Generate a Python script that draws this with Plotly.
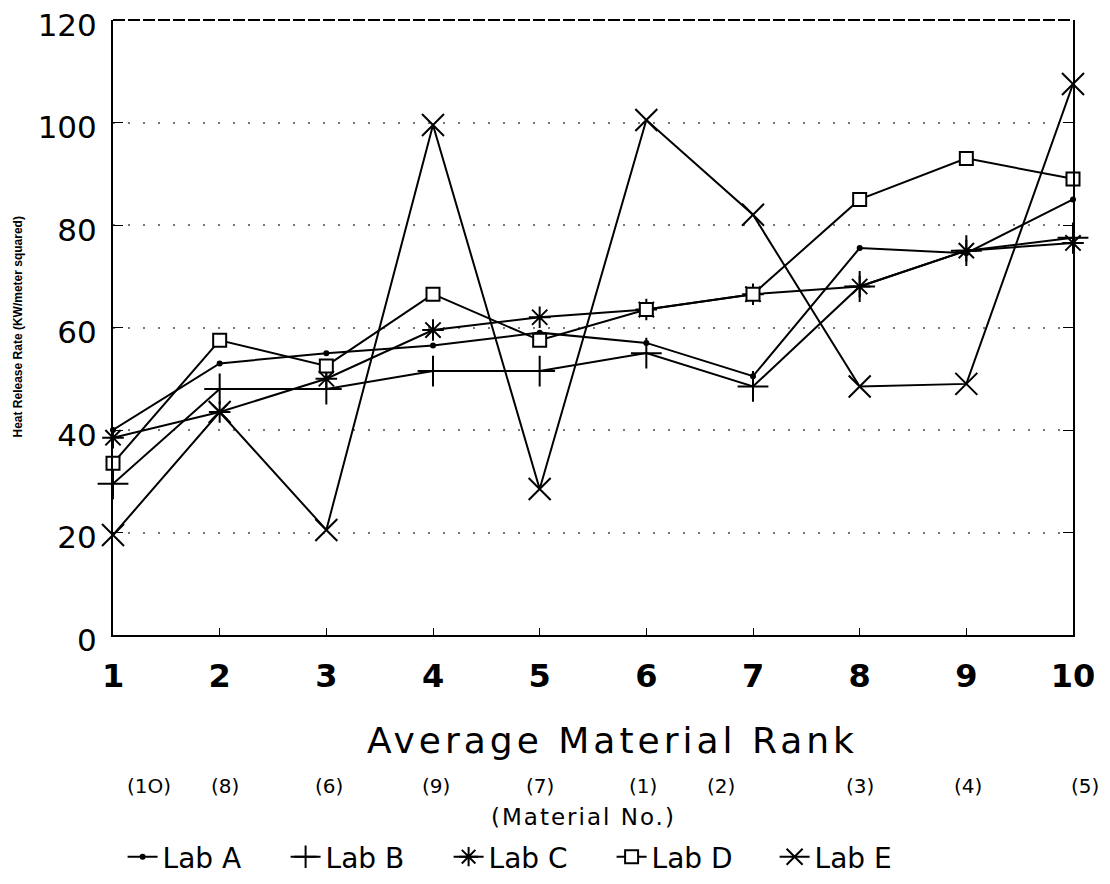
import plotly.graph_objects as go

ranks = [1, 2, 3, 4, 5, 6, 7, 8, 9, 10]
material_no = ["(1O)", "(8)", "(6)", "(9)", "(7)", "(1)", "(2)", "(3)", "(4)", "(5)"]
lab_a = [40, 53, 55, 56.5, 59, 57, 50.5, 75.5, 74.5, 85]
lab_b = [29.5, 48, 48, 51.5, 51.5, 55, 48.5, 68, 75, 77.5]
lab_c = [38.5, 43.5, 50, 59.5, 62, 63.5, 66.5, 68, 75, 76.5]
lab_d = [33.5, 57.5, 52.5, 66.5, 57.5, 63.5, 66.5, 85, 93, 89]
lab_e = [19.5, 43.5, 20.5, 99.5, 28.5, 100.5, 82, 48.5, 49, 107.5]
y_ticks = [0, 20, 40, 60, 80, 100, 120]

FONT = "DejaVu Sans"

series = [
    ("Lab A", lab_a, dict(symbol="circle", size=6, color="black")),
    ("Lab B", lab_b, dict(symbol="cross-thin-open", size=22, color="black", line=dict(width=2, color="black"))),
    ("Lab C", lab_c, dict(symbol="asterisk-open", size=18, color="black", line=dict(width=2, color="black"))),
    ("Lab D", lab_d, dict(symbol="square", size=13, color="white", line=dict(width=2, color="black"))),
    ("Lab E", lab_e, dict(symbol="x-thin-open", size=22, color="black", line=dict(width=2, color="black"))),
]

fig = go.Figure()
for name, vals, mk in series:
    fig.add_trace(go.Scatter(
        x=ranks, y=vals, name=name, mode="lines+markers",
        line=dict(color="black", width=2), marker=mk, cliponaxis=False,
    ))

fig.update_layout(
    width=1102, height=876,
    paper_bgcolor="white", plot_bgcolor="white",
    margin=dict(l=105, r=37, t=12, b=249, autoexpand=False),
    font=dict(family=FONT, color="black"),
    showlegend=True,
    legend=dict(orientation="h", x=0.01, xanchor="left", y=-0.361, yanchor="middle",
                font=dict(size=28, family=FONT), itemwidth=30, tracegroupgap=0,
                entrywidth=118, entrywidthmode="pixels",
                bgcolor="rgba(0,0,0,0)"),
)

fig.update_xaxes(
    range=[1, 10], tickvals=ranks, ticktext=[f"<b>{r}</b>" for r in ranks],
    tickfont=dict(size=32, family=FONT), ticks="inside", ticklen=7, tickcolor="black",
    ticklabelstandoff=12, automargin=False, ticklabeloverflow="allow",
    showline=True, linecolor="black", linewidth=2, mirror=False,
    showgrid=False, zeroline=False,
)
fig.update_yaxes(
    range=[0, 120], tickvals=y_ticks, ticktext=[str(v) for v in y_ticks],
    tickfont=dict(size=31, family=FONT), ticks="inside", ticklen=10, tickcolor="black",
    ticklabelstandoff=8, ticklabelshift=5, automargin=False, ticklabeloverflow="allow",
    showline=True, linecolor="black", linewidth=2, mirror="ticks",
    showgrid=True, gridcolor="#777", griddash="2px,13px", gridwidth=1.5, zeroline=False,
)

shapes = [
    dict(type="line", xref="paper", yref="paper", x0=0, x1=1, y0=1, y1=1,
         line=dict(color="black", width=2, dash="12px,3px")),
]

annotations = [
    dict(text="<b>Heat Release Rate (KW/meter squared)</b>", x=-0.1, y=0.5, xref="paper", yref="paper",
         textangle=-90, showarrow=False, font=dict(size=12, family="Liberation Sans"),
         xanchor="center", yanchor="middle"),
    dict(text="<span style='letter-spacing:4px'>Average Material Rank</span>", x=0.52, y=-0.171,
         xref="paper", yref="paper", showarrow=False, font=dict(size=36, family=FONT), yanchor="middle"),
    dict(text="<span style='letter-spacing:2px'>(Material No.)</span>", x=0.49, y=-0.296,
         xref="paper", yref="paper", showarrow=False, font=dict(size=23, family=FONT), yanchor="middle"),
]
shifts = [36, 5, 3, 3, 0, -3, -32, 0, 2, 12]
for r, lab, s in zip(ranks, material_no, shifts):
    annotations.append(dict(text=lab, x=r, y=-0.245, xref="x", yref="paper", xshift=s,
                            showarrow=False, font=dict(size=20, family=FONT), yanchor="middle"))
fig.update_layout(annotations=annotations, shapes=shapes)

fig.write_html("out.html")
